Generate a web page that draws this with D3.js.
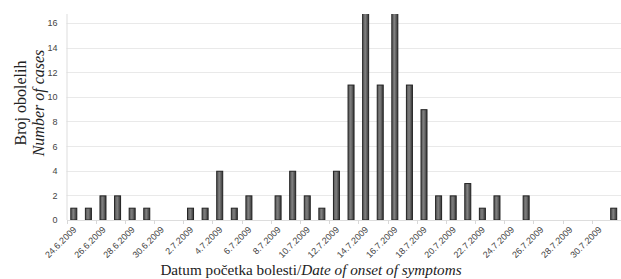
<!DOCTYPE html>
<html>
<head>
<meta charset="utf-8">
<script src="https://cdn.jsdelivr.net/npm/d3@7"></script>
<style>
  body { margin: 0; background: #fff; }
  svg { display: block; }
</style>
</head>
<body>
<div id="chart"></div>
<script>
// daily cases, 24.6.2009 - 31.7.2009
const days = [
  "24.6.2009","25.6.2009","26.6.2009","27.6.2009","28.6.2009","29.6.2009","30.6.2009",
  "1.7.2009","2.7.2009","3.7.2009","4.7.2009","5.7.2009","6.7.2009","7.7.2009",
  "8.7.2009","9.7.2009","10.7.2009","11.7.2009","12.7.2009","13.7.2009","14.7.2009",
  "15.7.2009","16.7.2009","17.7.2009","18.7.2009","19.7.2009","20.7.2009","21.7.2009",
  "22.7.2009","23.7.2009","24.7.2009","25.7.2009","26.7.2009","27.7.2009","28.7.2009",
  "29.7.2009","30.7.2009","31.7.2009"
];
const cases = [
  1, 1, 2, 2, 1, 1, 0,
  0, 1, 1, 4, 1, 2, 0,
  2, 4, 2, 1, 4, 11, 17,
  11, 17, 11, 9, 2, 2, 3,
  1, 2, 0, 2, 0, 0, 0,
  0, 0, 1
];
const yTicks = [0, 2, 4, 6, 8, 10, 12, 14, 16];

const width = 621, height = 279;
const margin = {top: 14, right: 0, bottom: 59, left: 66.5};

const svg = d3.select("#chart").append("svg")
    .attr("width", width)
    .attr("height", height);

const x = d3.scaleBand()
    .domain(days)
    .range([margin.left, width - margin.right])
    .paddingInner(0.52)
    .paddingOuter(0.26);

const y = d3.scaleLinear()
    .domain([0, 16.73])
    .range([height - margin.bottom, margin.top]);

const defs = svg.append("defs");
const grad = defs.append("linearGradient")
    .attr("id", "barFill")
    .attr("x1", "0%").attr("x2", "100%").attr("y1", "0%").attr("y2", "0%");
grad.append("stop").attr("offset", "0%").attr("stop-color", "#555");
grad.append("stop").attr("offset", "45%").attr("stop-color", "#808080");
grad.append("stop").attr("offset", "100%").attr("stop-color", "#363636");

defs.append("clipPath").attr("id", "plotClip")
  .append("rect")
    .attr("x", margin.left)
    .attr("y", margin.top)
    .attr("width", width - margin.left - margin.right)
    .attr("height", height - margin.bottom - margin.top);

// gridlines
svg.append("g")
  .selectAll("line")
  .data(yTicks.filter(d => d > 0))
  .join("line")
    .attr("x1", margin.left)
    .attr("x2", width - margin.right)
    .attr("y1", d => Math.round(y(d)) + 0.5)
    .attr("y2", d => Math.round(y(d)) + 0.5)
    .attr("stroke", "#e9e9e9");

const sans = "Liberation Sans, Arial, sans-serif";

// y axis
const yAxis = svg.append("g")
    .attr("transform", `translate(${margin.left},0)`)
    .call(d3.axisLeft(y).tickValues(yTicks).tickSize(0).tickPadding(9));
yAxis.select(".domain")
    .attr("stroke", "#dddddd")
    .attr("d", `M0.5,${margin.top}V${y(0)}`);
yAxis.selectAll("text")
    .attr("font-family", sans)
    .attr("font-size", 9)
    .attr("fill", "#444");

// x axis
const labeled = days.filter((d, i) => i % 2 === 0);
const xAxis = svg.append("g")
    .attr("transform", `translate(0,${y(0)})`)
    .call(d3.axisBottom(x).tickValues(labeled).tickSize(0).tickFormat(""));
xAxis.select(".domain").attr("stroke", "#dddddd");
xAxis.selectAll(".tick").remove();

// tick marks on category boundaries before each labeled day
const step = x.step();
svg.append("g")
  .selectAll("line")
  .data(labeled)
  .join("line")
    .attr("x1", d => Math.round(x(d) + x.bandwidth() / 2 - step / 2) + 0.5)
    .attr("x2", d => Math.round(x(d) + x.bandwidth() / 2 - step / 2) + 0.5)
    .attr("y1", y(0))
    .attr("y2", y(0) + 4)
    .attr("stroke", "#d8d8d8");

svg.append("g")
  .selectAll("text")
  .data(labeled)
  .join("text")
    .attr("transform", d => `translate(${x(d) + x.bandwidth() / 2 + 1},${y(0) + 8}) rotate(-45)`)
    .attr("text-anchor", "end")
    .attr("dy", "0.35em")
    .attr("font-family", sans)
    .attr("font-size", 9)
    .attr("fill", "#444")
    .text(d => d);

// bars
svg.append("g")
    .attr("clip-path", "url(#plotClip)")
  .selectAll("rect")
  .data(days.map((d, i) => ({day: d, n: cases[i]})).filter(d => d.n > 0))
  .join("rect")
    .attr("x", d => x(d.day) + 0.5)
    .attr("y", d => y(d.n) + 0.5)
    .attr("width", x.bandwidth() - 1)
    .attr("height", d => y(0) - y(d.n) - 0.5)
    .attr("fill", "url(#barFill)")
    .attr("stroke", "#222")
    .attr("stroke-width", 1);

// axis titles
const serif = "Liberation Serif, Times New Roman, serif";
svg.append("text")
    .attr("transform", `translate(26,103) rotate(-90)`)
    .attr("text-anchor", "middle")
    .attr("font-family", serif)
    .attr("font-size", 16)
    .attr("fill", "#222")
    .text("Broj obolelih");
svg.append("text")
    .attr("transform", `translate(44,103) rotate(-90)`)
    .attr("text-anchor", "middle")
    .attr("font-family", serif)
    .attr("font-style", "italic")
    .attr("font-size", 16)
    .attr("fill", "#222")
    .text("Number of cases");

const xt = svg.append("text")
    .attr("x", 311)
    .attr("y", 275)
    .attr("text-anchor", "middle")
    .attr("font-family", serif)
    .attr("font-size", 15.2)
    .attr("fill", "#222");
xt.append("tspan").text("Datum početka bolesti/");
xt.append("tspan").attr("font-style", "italic").text("Date of onset of symptoms");
</script>
</body>
</html>
